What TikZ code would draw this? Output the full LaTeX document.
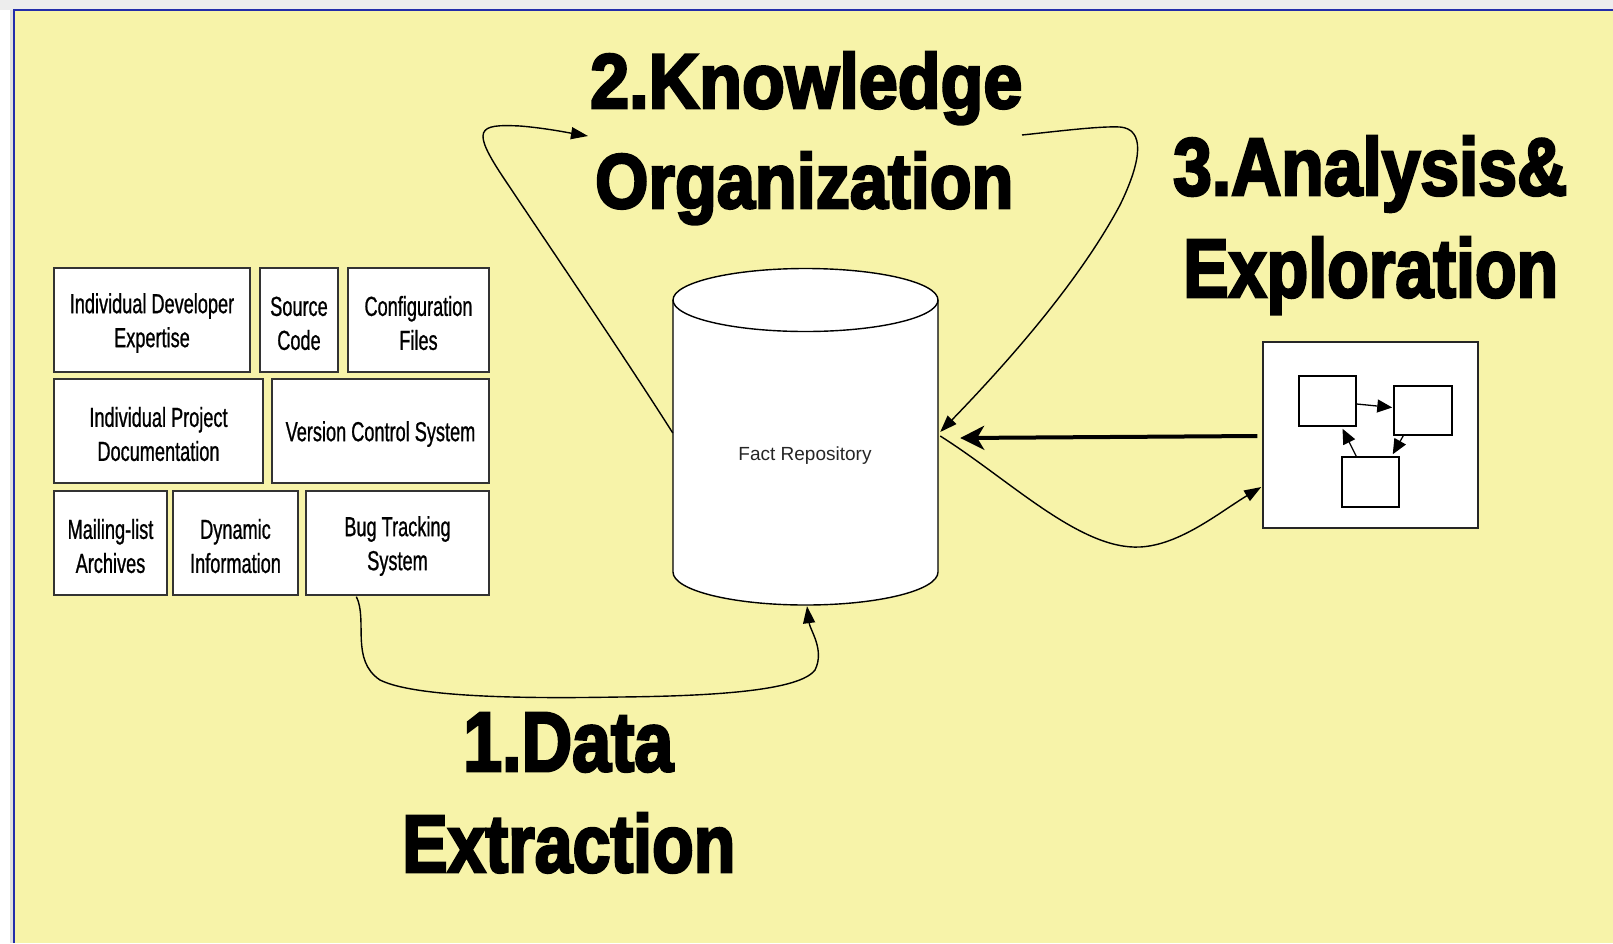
\documentclass[tikz,border=0pt]{standalone}
\usepackage{fontspec}
\usepackage{graphicx}
\usetikzlibrary{arrows.meta,calc}
\setmainfont{Liberation Sans}
\newfontfamily\boxfont{Liberation Sans}[FakeStretch=0.66,FakeBold=0.8]
\newfontfamily\heavyfont{Liberation Sans}[BoldFeatures={FakeBold=3.5}]
\definecolor{bgyellow}{RGB}{247,243,169}
\definecolor{frameblue}{RGB}{35,45,170}
\newcommand\fitbox[3]{\resizebox{#1pt}{#2pt}{\heavyfont\bfseries #3}}
\begin{document}
\begin{tikzpicture}[x=1pt,y=-1pt,
  src/.style={draw=black!80,line width=1.3pt,fill=white,inner sep=0pt,align=center,
    font=\boxfont\fontsize{27.5}{34}\selectfont},
  lbl/.style={inner sep=0pt,anchor=base west},
  conn/.style={line width=1.4pt,-{Triangle[length=17pt,width=12pt]}},
  bigarrow/.style={line width=4pt,-{Stealth[length=24pt,width=24pt,inset=7pt]}},
  mini/.style={draw=black,line width=1.5pt,fill=white,inner sep=0pt},
  miniarrow/.style={line width=1.3pt,-{Triangle[length=15pt,width=13pt]}}
]
\useasboundingbox (0,0) rectangle (1613,943);
% page background and panel
\fill[black!7] (0,0) rectangle (1613,943);
\fill[white] (0,10) rectangle (10,943);
\fill[black!12] (10,10) rectangle (14,943);
\fill[bgyellow] (14,10) rectangle (1613,943);
\draw[frameblue,line width=1.5pt] (14,943) -- (14,10) -- (1613,10);

% source boxes
\node[src,minimum width=196pt,minimum height=104pt] (b1) at (152,320) {\rule{0pt}{26pt}Individual Developer\\Expertise};
\node[src,minimum width=78pt,minimum height=104pt] (b2) at (299,320) {\rule{0pt}{26pt}Source\\Code};
\node[src,minimum width=141pt,minimum height=104pt] (b3) at (418.5,320) {\rule{0pt}{26pt}Configuration\\Files};
\node[src,minimum width=209pt,minimum height=104pt] (b4) at (158.5,431) {\rule{0pt}{26pt}Individual Project\\Documentation};
\node[src,minimum width=217pt,minimum height=104pt] (b5) at (380.5,431) {\rule{0pt}{26pt}Version Control System};
\node[src,minimum width=113pt,minimum height=104pt] (b6) at (110.5,543) {\rule{0pt}{26pt}Mailing-list\\Archives};
\node[src,minimum width=125pt,minimum height=104pt] (b7) at (235.5,543) {\rule{0pt}{26pt}Dynamic\\Information};
\node[src,minimum width=183pt,minimum height=104pt] (b8) at (397.5,543) {\rule{0pt}{26pt}Bug Tracking\\System};

% fact repository cylinder
\node[minimum width=265pt,minimum height=336pt,inner sep=0pt] (repo) at (805.5,437) {};
\fill[white] (673,300) -- (673,572) .. controls (673,590.2) and (731.8,605) .. (805.5,605)
  .. controls (879.2,605) and (938,590.2) .. (938,572) -- (938,300) -- cycle;
\draw[line width=1.4pt] (673,300) -- (673,572) .. controls (673,590.2) and (731.8,605) .. (805.5,605)
  .. controls (879.2,605) and (938,590.2) .. (938,572) -- (938,300);
\draw[line width=1.4pt,fill=white] (805.5,300) ellipse [x radius=132.5, y radius=31.5];
\node[font=\fontsize{19}{22}\selectfont,text=black!85,inner sep=0pt] (repotext) at (805,456) {Fact Repository};

% analysis view
\node[draw=black!85,line width=1.5pt,fill=white,minimum width=215pt,minimum height=186pt,inner sep=0pt] (view) at (1370.5,435) {};
\node[mini,minimum width=57pt,minimum height=50pt] (gA) at (1327.5,401) {};
\node[mini,minimum width=58pt,minimum height=49pt] (gB) at (1423,410.5) {};
\node[mini,minimum width=57pt,minimum height=50pt] (gC) at (1370.5,482) {};
\draw[miniarrow] ($(gA.east)+(0,3)$) -- ($(gB.west)+(-1,-3)$);
\draw[miniarrow] ($(gB.south west)+(10,0)$) -- ($(gC.north east)+(-7,-2)$);
\draw[miniarrow] ($(gC.north west)+(15,0)$) -- ($(gA.south)+(15,2)$);

% big labels
\node[lbl] (l2a) at (590,108) {\fitbox{432}{56}{2.Knowledge}};
\node[lbl] (l2b) at (595,208) {\fitbox{418}{56}{Organization}};
\node[lbl] (l3a) at (1173,195) {\fitbox{394}{59}{3.Analysis\&}};
\node[lbl] (l3b) at (1183,297) {\fitbox{375}{60}{Exploration}};
\node[lbl] (l1a) at (463,771) {\fitbox{210}{58}{1.Data}};
\node[lbl] (l1b) at (402,872) {\fitbox{333}{59}{Extraction}};

% connectors
\coordinate (k2in) at (588,136);
\coordinate (k2out) at (1022,135);
\draw[conn] ($(repo.west)+(0,-4)$) .. controls (620,350) and (545,240) .. (505,180)
  .. controls (470,128) and (478,124) .. (520,126)
  .. controls (545,128) and (570,133) .. (k2in);
\draw[conn] (k2out) .. controls (1060,131) and (1100,126) .. (1120,127)
  .. controls (1145,129) and (1142,160) .. (1120,205)
  .. controls (1080,280) and (1010,360) .. ($(repo.east)+(2,-5)$);
\draw[conn] ($(repo.east)+(2,-1)$) .. controls (1010,480) and (1080,550) .. (1140,547)
  .. controls (1180,545) and (1220,512) .. ($(view.west)+(-1,52)$);
\draw[bigarrow] ($(view.west)+(-5,1)$) -- ($(repo.east)+(22,1)$);
\draw[conn] ($(b8.south west)+(51,1)$) .. controls (368,620) and (350,660) .. (380,680)
  .. controls (420,700) and (560,698) .. (620,697)
  .. controls (720,696) and (800,690) .. (815,670)
  .. controls (825,650) and (810,630) .. ($(repo.south)+(1.5,1)$);
\end{tikzpicture}
\end{document}
